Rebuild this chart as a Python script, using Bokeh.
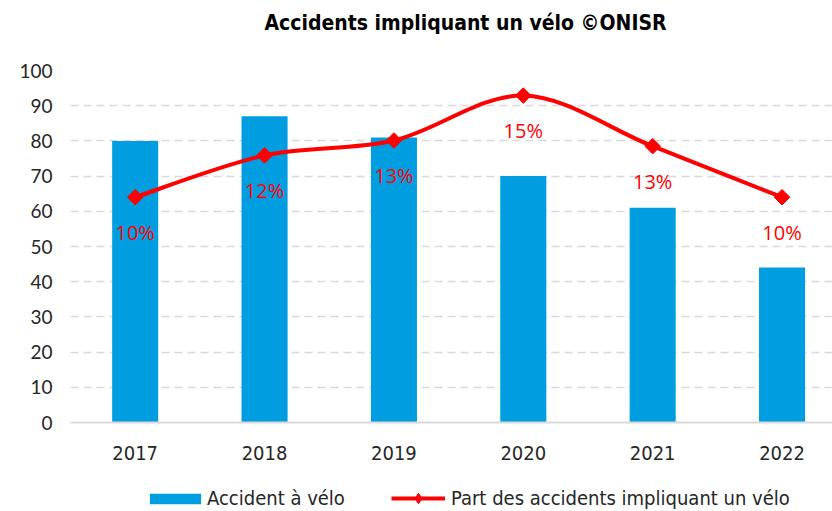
import math
from bokeh.plotting import figure
from bokeh.layouts import column
from bokeh.models import (Range1d, Legend, LegendItem, ColumnDataSource, FixedTicker, Label)
from bokeh.embed import file_html
from bokeh.resources import INLINE
from bokeh.core.properties import value

# ---- data ----
years = ["2017", "2018", "2019", "2020", "2021", "2022"]
accidents = [80, 87, 81, 70, 61, 44]
share_pct = [10.24, 12.14, 12.82, 14.86, 12.56, 10.24]
y_ticks = [0, 10, 20, 30, 40, 50, 60, 70, 80, 90, 100]
title_text = "Accidents impliquant un vélo ©ONISR"
bar_label = "Accident à vélo"
line_label = "Part des accidents impliquant un vélo"

BLUE = "#009ee0"
RED = "#ff0000"
GRID = "#d9d9d9"
COND = "DejaVu Sans Condensed, Roboto"
W = 832


def bare(fig):
    fig.outline_line_color = None
    fig.xaxis.visible = False
    fig.yaxis.visible = False
    fig.xgrid.visible = False
    fig.ygrid.visible = False
    fig.background_fill_color = "white"
    fig.border_fill_color = "white"


xs = list(range(len(years)))
src = ColumnDataSource(dict(x=xs, acc=accidents, pct=share_pct,
                            lbl=[f"{round(v)}%" for v in share_pct]))

# ---- title strip (frames of a column are aligned: frame starts at x=70) ----
ptitle = figure(width=W, height=44, x_range=Range1d(0, 1), y_range=Range1d(0, 1),
                output_backend="svg", toolbar_location=None,
                min_border_left=0, min_border_right=0, min_border_top=0, min_border_bottom=0)
bare(ptitle)
ptitle.add_layout(Label(x=395, y=22, x_units="screen", y_units="screen", text=title_text,
                        text_align="center", text_baseline="middle", text_font=COND,
                        text_font_style="bold", text_font_size="21px", text_color="black"))

# ---- main chart ----
p = figure(width=W, height=441, x_range=Range1d(-0.5, 5.39), y_range=Range1d(0, 100),
           output_backend="svg", toolbar_location=None,
           min_border_left=70, min_border_right=0, min_border_top=26, min_border_bottom=63)
p.extra_y_ranges = {"pct": Range1d(0, 16)}
p.outline_line_color = None
p.background_fill_color = "white"
p.border_fill_color = "white"

p.vbar(x="x", top="acc", width=0.356, source=src, fill_color=BLUE, line_color=None)

# smooth line (Catmull-Rom -> cubic Bezier), computed from data
n = len(xs)
bx0, by0, bx1, by1, cx0, cy0, cx1, cy1 = [], [], [], [], [], [], [], []
for i in range(n - 1):
    ip = max(i - 1, 0)
    inx = min(i + 2, n - 1)
    bx0.append(xs[i]); by0.append(share_pct[i])
    bx1.append(xs[i + 1]); by1.append(share_pct[i + 1])
    cx0.append(xs[i] + (xs[i + 1] - xs[ip]) / 6)
    cy0.append(share_pct[i] + (share_pct[i + 1] - share_pct[ip]) / 6)
    cx1.append(xs[i + 1] - (xs[inx] - xs[i]) / 6)
    cy1.append(share_pct[i + 1] - (share_pct[inx] - share_pct[i]) / 6)
bsrc = ColumnDataSource(dict(x0=bx0, y0=by0, x1=bx1, y1=by1, cx0=cx0, cy0=cy0, cx1=cx1, cy1=cy1))
p.bezier(x0="x0", y0="y0", x1="x1", y1="y1", cx0="cx0", cy0="cy0", cx1="cx1", cy1="cy1",
         source=bsrc, line_color=RED, line_width=4, y_range_name="pct")
p.scatter(x="x", y="pct", source=src, marker="square", angle=math.pi / 4, size=11,
          fill_color=RED, line_color=RED, y_range_name="pct")

p.text(x="x", y="pct", text="lbl", source=src, y_range_name="pct", y_offset=35,
       text_align="center", text_baseline="middle", text_color=RED,
       text_font=value("Open Sans"), text_font_size="20px")

p.yaxis.ticker = FixedTicker(ticks=y_ticks)
p.yaxis.axis_line_color = None
p.yaxis.major_tick_line_color = None
p.yaxis.minor_tick_line_color = None
p.yaxis.major_label_text_font = "Lato"
p.yaxis.major_label_text_font_size = "19px"
p.yaxis.major_label_text_color = "#262626"
p.yaxis.major_label_standoff = 12

p.xaxis.ticker = FixedTicker(ticks=xs)
p.xaxis.major_label_overrides = {i: y for i, y in zip(xs, years)}
p.xaxis.axis_line_color = GRID
p.xaxis.axis_line_width = 2
p.xaxis.major_tick_line_color = None
p.xaxis.minor_tick_line_color = None
p.xaxis.major_label_text_font = COND
p.xaxis.major_label_text_font_size = "20px"
p.xaxis.major_label_text_color = "#262626"
p.xaxis.major_label_standoff = 17

p.xgrid.grid_line_color = None
p.ygrid.ticker = FixedTicker(ticks=y_ticks)
p.ygrid.grid_line_color = GRID
p.ygrid.grid_line_width = 1.5
p.ygrid.grid_line_dash = "8 5"

# ---- legend strip (same series, view range chosen so only the legend shows) ----
pleg = figure(width=W, height=26, x_range=Range1d(-3, -2), y_range=Range1d(-3, -2),
              output_backend="svg", toolbar_location=None,
              min_border_left=0, min_border_right=0, min_border_top=0, min_border_bottom=0)
bare(pleg)
lg_bar = pleg.vbar(x="x", top="acc", width=0.356, source=src, fill_color=BLUE, line_color=None)
lg_line = pleg.line(x="x", y="pct", source=src, line_color=RED, line_width=4)
lg_mark = pleg.scatter(x="x", y="pct", source=src, marker="diamond",
                       fill_color=RED, line_color=RED)

common = dict(orientation="horizontal", location="left", padding=0,
              border_line_color=None, background_fill_alpha=0,
              label_text_font=COND, label_text_font_size="20px",
              label_text_color="#262626")
leg1 = Legend(items=[LegendItem(label=bar_label, renderers=[lg_bar])],
              margin=73, glyph_width=64, glyph_height=13, label_standoff=0, **common)
leg2 = Legend(items=[LegendItem(label=line_label, renderers=[lg_line, lg_mark])],
              margin=321, glyph_width=54, glyph_height=26, label_standoff=6, **common)
pleg.add_layout(leg1, "center")
pleg.add_layout(leg2, "center")

layout = column(ptitle, p, pleg, spacing=0)
open("out.html", "w").write(file_html(layout, INLINE))
